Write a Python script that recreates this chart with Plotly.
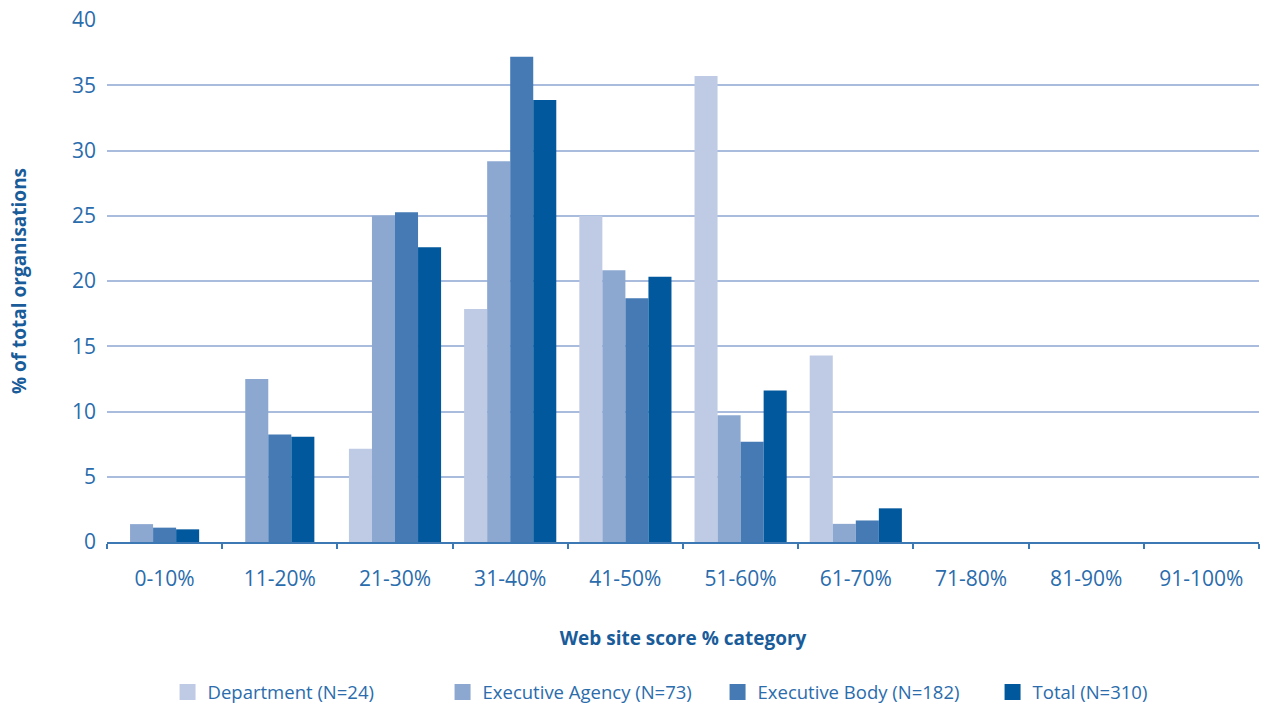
import plotly.graph_objects as go

categories = ["0-10%", "11-20%", "21-30%", "31-40%", "41-50%", "51-60%", "61-70%", "71-80%", "81-90%", "91-100%"]
department = [0, 0, 7.14, 17.86, 25.0, 35.71, 14.29, 0, 0, 0]
exec_agency = [1.37, 12.5, 25.0, 29.17, 20.83, 9.72, 1.39, 0, 0, 0]
exec_body = [1.1, 8.24, 25.27, 37.18, 18.68, 7.69, 1.65, 0, 0, 0]
total = [0.97, 8.06, 22.58, 33.87, 20.32, 11.61, 2.58, 0, 0, 0]

names = ["Department (N=24)", "Executive Agency (N=73)", "Executive Body (N=182)", "Total (N=310)"]
colors = ["#BFCBE4", "#8DA8D0", "#457AB4", "#02589C"]
data = [department, exec_agency, exec_body, total]

font_family = "Open Sans, Lato, sans-serif"
text_col = "#2A6CAC"
title_col = "#1A5C9A"

bar_w = 0.2
fig = go.Figure()
for i, (name, vals, col) in enumerate(zip(names, data, colors)):
    offsets = []
    for j in range(len(categories)):
        # groups with no Department bar are centred on the remaining three bars
        n_present = 4 if department[j] > 0 else 3
        first = 0 if department[j] > 0 else 1
        offsets.append(-n_present * bar_w / 2 + (i - first) * bar_w)
    fig.add_trace(go.Bar(x=categories, y=vals, name=name, width=bar_w, offset=offsets,
                         marker=dict(color=col, line=dict(width=0)), showlegend=False))
    fig.add_trace(go.Scatter(x=[None], y=[None], mode="markers", name=name,
                             marker=dict(symbol="square", size=21, color=col, line=dict(width=0))))

fig.update_layout(
    width=1268, height=711,
    paper_bgcolor="white", plot_bgcolor="white",
    margin=dict(l=107, r=9, t=20, b=169, autoexpand=False),
    font=dict(family=font_family, size=21, color=text_col),
    legend=dict(orientation="h", x=0.53, xanchor="center",
                yref="container", y=0.026, yanchor="middle",
                font=dict(size=18.5, color=text_col), itemsizing="trace", traceorder="normal",
                itemwidth=30, entrywidth=230, entrywidthmode="pixels"),
    xaxis=dict(
        type="category", automargin=False,
        showgrid=False,
        showline=True, linecolor="#3C78B4", linewidth=2,
        ticks="outside", tickson="boundaries", ticklen=5, tickcolor="#3C78B4", tickwidth=2,
        tickfont=dict(size=21, color=text_col),
        ticklabelstandoff=17,
        title=dict(text="<b>Web site score % category</b>", font=dict(size=19, color=title_col), standoff=40),
    ),
    yaxis=dict(
        range=[0, 40], dtick=5, automargin=False,
        showgrid=True, gridcolor="#A9BCDD", gridwidth=1.5,
        zeroline=False, showline=False, ticks="",
        tickfont=dict(size=21, color=text_col),
        ticklabelstandoff=10,
        title=dict(text="<b>% of total organisations</b>", font=dict(size=19, color=title_col), standoff=40),
    ),
)

fig.write_html("out.html")
